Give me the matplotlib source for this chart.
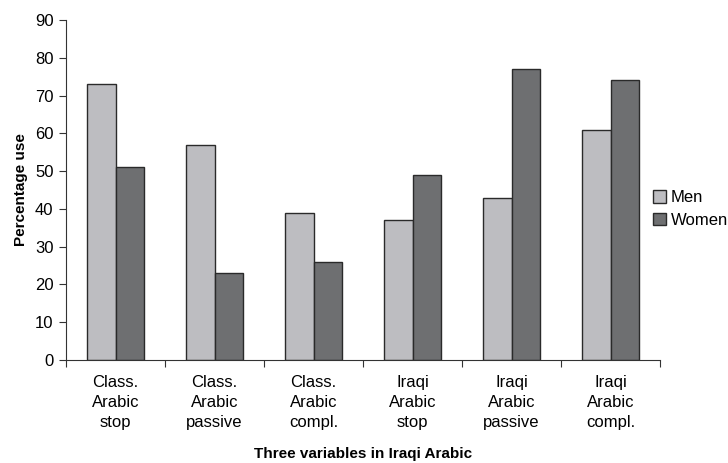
import matplotlib.pyplot as plt
import numpy as np

# data
categories = ['Class.\nArabic\nstop', 'Class.\nArabic\npassive', 'Class.\nArabic\ncompl.',
              'Iraqi\nArabic\nstop', 'Iraqi\nArabic\npassive', 'Iraqi\nArabic\ncompl.']
men = [73, 57, 39, 37, 43, 61]
women = [51, 23, 26, 49, 77, 74]

plt.rcParams['font.family'] = ['Liberation Sans', 'DejaVu Sans']

fig = plt.figure(figsize=(7.28, 4.63), dpi=100)
ax = fig.add_axes([0.0907, 0.2225, 0.816, 0.7343])

x = np.arange(len(categories))
w = 0.29
ax.bar(x - w / 2, men, w, color='#bdbdc1', edgecolor='#2a2a2a', linewidth=1.0, label='Men')
ax.bar(x + w / 2, women, w, color='#6e6f71', edgecolor='#2a2a2a', linewidth=1.0, label='Women')

ax.set_xlim(-0.5, len(categories) - 0.5)
ax.set_ylim(0, 90)
ax.set_yticks(range(0, 91, 10))

# tick marks at category boundaries, labels at centres
ax.set_xticks(np.arange(-0.5, len(categories), 1.0))
ax.set_xticklabels([])
ax.set_xticks(x, minor=True)
ax.set_xticklabels(categories, minor=True, fontsize=12, linespacing=1.42)
ax.tick_params(axis='x', which='minor', length=0, pad=11)
ax.tick_params(axis='x', which='major', length=5, direction='out', color='#333333')
ax.tick_params(axis='y', length=5, direction='out', color='#333333', labelsize=12, pad=4)

for s in ['top', 'right']:
    ax.spines[s].set_visible(False)
for s in ['left', 'bottom']:
    ax.spines[s].set_color('#333333')

ax.set_xlabel('Three variables in Iraqi Arabic', fontsize=11, fontweight='bold', labelpad=12)
ax.set_ylabel('Percentage use', fontsize=11, fontweight='bold', labelpad=5)

fig.legend(loc='upper left', bbox_to_anchor=(0.876, 0.622), frameon=False, fontsize=12,
           handlelength=0.8, handleheight=0.8, handletextpad=0.3, labelspacing=0.45)

fig.savefig('out.png', dpi=100)
